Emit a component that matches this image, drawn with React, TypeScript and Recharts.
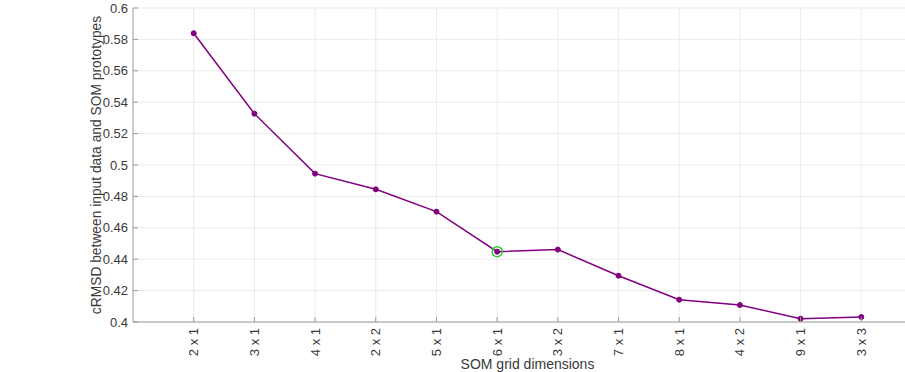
import { LineChart, Line, XAxis, YAxis, CartesianGrid, ReferenceDot } from 'recharts'

// SOM grid sizes, in the order they were evaluated
const gridLabels = ['2 x 1', '3 x 1', '4 x 1', '2 x 2', '5 x 1', '6 x 1', '3 x 2', '7 x 1', '8 x 1', '4 x 2', '9 x 1', '3 x 3']
const crmsd = [0.5839, 0.5327, 0.4945, 0.4845, 0.4703, 0.4448, 0.4461, 0.4295, 0.4142, 0.4108, 0.4021, 0.4032]
const yTicks = [0.4, 0.42, 0.44, 0.46, 0.48, 0.5, 0.52, 0.54, 0.56, 0.58, 0.6]
const xTicks = gridLabels.map((_, i) => i + 1)
const chosenIndex = 5 // 6 x 1

const data = gridLabels.map((label, i) => ({ x: i + 1, label, value: crmsd[i] }))

const FONT = '"Liberation Sans", Arial, sans-serif'
const TEXT = '#3a3a3a'
const AXIS = '#9a9a9a'
const PURPLE = '#800080'

function BottomTick({ x, y, payload }: any) {
  const label = gridLabels[payload.value - 1] ?? ''
  return (
    <g>
      <line x1={x} y1={y} x2={x} y2={y - 5} stroke={AXIS} />
      <text
        x={0}
        y={0}
        dy="0.35em"
        textAnchor="end"
        transform={`translate(${x},${y + 6}) rotate(-90)`}
        fontSize={13}
        fontFamily={FONT}
        fill={TEXT}
      >
        {label}
      </text>
    </g>
  )
}

function TopTick({ x, y }: any) {
  return <line x1={x} y1={y} x2={x} y2={y + 5} stroke={AXIS} />
}

function LeftTick({ x, y, payload }: any) {
  return (
    <g>
      <line x1={x} y1={y} x2={x + 5} y2={y} stroke={AXIS} />
      <text x={x - 5} y={y} dy="0.35em" textAnchor="end" fontSize={13} fontFamily={FONT} fill={TEXT}>
        {String(payload.value)}
      </text>
    </g>
  )
}

export default function App() {
  return (
    <div style={{ position: 'absolute', left: 0, top: 0, width: 905, height: 372, overflow: 'hidden', background: '#fff' }}>
      <LineChart width={922} height={372} data={data} margin={{ top: 8, right: 0, bottom: 0, left: 0 }}>
        <CartesianGrid stroke="#ebebeb" horizontalValues={yTicks} verticalValues={xTicks} />
        <XAxis
          dataKey="x"
          type="number"
          domain={[0, 13]}
          ticks={xTicks}
          interval={0}
          height={50}
          tickSize={0}
          tickMargin={0}
          tickLine={false}
          axisLine={{ stroke: AXIS }}
          tick={<BottomTick />}
          label={{ value: 'SOM grid dimensions', position: 'insideBottom', offset: 3, fontSize: 14, fontFamily: FONT, fill: TEXT }}
        />
        <XAxis
          xAxisId="top"
          dataKey="x"
          type="number"
          orientation="top"
          domain={[0, 13]}
          ticks={xTicks}
          interval={0}
          height={0}
          tickSize={0}
          tickLine={false}
          axisLine={{ stroke: '#c4c4c4' }}
          tick={<TopTick />}
        />
        <YAxis
          type="number"
          domain={[0.4, 0.6]}
          ticks={yTicks}
          interval={0}
          width={133}
          tickSize={0}
          tickMargin={0}
          tickLine={false}
          axisLine={{ stroke: AXIS }}
          tick={<LeftTick />}
          label={{
            value: 'cRMSD between input data and SOM prototypes',
            angle: -90,
            position: 'insideLeft',
            offset: 96,
            style: { textAnchor: 'middle' },
            fontSize: 13.8,
            fontFamily: FONT,
            fill: TEXT,
          }}
        />
        <Line
          type="linear"
          dataKey="value"
          stroke={PURPLE}
          strokeWidth={1.5}
          dot={{ r: 2.5, fill: PURPLE, stroke: PURPLE, strokeWidth: 1 }}
          activeDot={false}
          isAnimationActive={false}
        />
        <ReferenceDot
          x={chosenIndex + 1}
          y={crmsd[chosenIndex]}
          r={5}
          fill="none"
          stroke="#2ecc2e"
          strokeWidth={1.5}
        />
      </LineChart>
    </div>
  )
}
